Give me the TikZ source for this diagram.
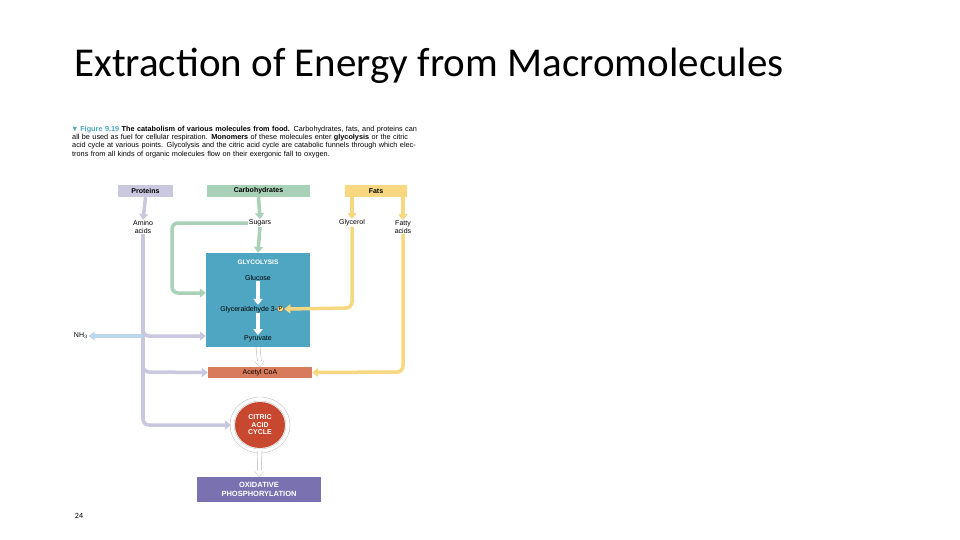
\documentclass[tikz,border=0pt]{standalone}
\usepackage{amssymb}
\usepackage{fontspec}
\setmainfont{Carlito}
\setsansfont{Liberation Sans}
\usetikzlibrary{arrows.meta,shapes.geometric}
\definecolor{prot}{HTML}{C9C8DE}
\definecolor{carb}{HTML}{A9D1B8}
\definecolor{fat}{HTML}{F7D77F}
\definecolor{glyc}{HTML}{4FA6C2}
\definecolor{acet}{HTML}{D87A5C}
\definecolor{cac}{HTML}{C8472F}
\definecolor{oxp}{HTML}{7A72B0}
\definecolor{nh}{HTML}{BBD8EA}
\tikzset{
 lab/.style={font=\sffamily\fontsize{7}{7.5}\selectfont,align=center,inner sep=0.5pt},
 hdr/.style={font=\sffamily\bfseries\fontsize{7}{8}\selectfont,minimum height=12pt,inner sep=0pt},
 pa/.style={draw=#1,line width=3.5pt,-{Triangle[length=6pt,width=9pt]},rounded corners=6pt},
 pl/.style={draw=#1,line width=3.5pt,rounded corners=6pt},
 wa/.style={draw=white,line width=3.5pt,-{Triangle[length=6pt,width=9pt]}},
}
\begin{document}
\begin{tikzpicture}[x=1pt,y=-1pt]
\useasboundingbox (0,0) rectangle (960,540);
\node[anchor=base west,font=\fontsize{41}{44}\selectfont,inner sep=0] (title) at (74,77) {Extraction of Energy from Macromolecules};
\node[anchor=north west,inner sep=0,text width=348pt,align=left,font=\sffamily\fontsize{7.3}{8.2}\selectfont] (cap) at (72,126)
{{\color{glyc}\bfseries $\blacktriangledown$ Figure 9.19} \textbf{The catabolism of various molecules from food.} Carbohydrates, fats, and proteins can all be used as fuel for cellular respiration. \textbf{Monomers} of these molecules enter \textbf{glycolysis} or the citric acid cycle at various points. Glycolysis and the citric acid cycle are catabolic funnels through which electrons from all kinds of organic molecules flow on their exergonic fall to oxygen.};
% headers
\node[hdr,fill=prot,minimum width=55pt] (prot) at (145.5,191) {Proteins};
\node[hdr,fill=carb,minimum width=103pt] (carb) at (258.5,191) {Carbohydrates};
\node[hdr,fill=fat,minimum width=62pt] (fats) at (376,191) {Fats};
\node[lab] (amino) at (143,227) {Amino\\acids};
\node[lab] (sug) at (260,223) {Sugars};
\node[lab] (glyr) at (352,223) {Glycerol};
\node[lab] (fatty) at (403,227) {Fatty\\acids};
% glycolysis
\node[fill=glyc,minimum width=104pt,minimum height=94pt,inner sep=0] (gbox) at (258,300) {};
\node[lab,text=white,font=\sffamily\bfseries\fontsize{6.5}{7}\selectfont] (gl) at (258,262) {GLYCOLYSIS};
\node[lab] (glu) at (258,278) {Glucose};
\node[lab] (g3p) at (252,309) {Glyceraldehyde 3-\tikz[baseline=-2.2pt]\node[circle,fill=fat,draw=black!60,inner sep=0.3pt,font=\sffamily\fontsize{5.5}{6}\selectfont]{P};};
\node[lab] (pyr) at (258,339) {Pyruvate};
\node[fill=acet,minimum width=104pt,minimum height=11pt,inner sep=0,lab] (acoa) at (260,372.5) {Acetyl CoA};
\draw[gray!50,line width=4.5pt] (260,425) ellipse (28pt and 26pt);
\draw[white,line width=3.5pt] (260,425) ellipse (28pt and 26pt);
\node[ellipse,fill=cac,minimum width=50pt,minimum height=46pt,inner sep=0,text=white,font=\sffamily\bfseries\fontsize{7}{7.5}\selectfont,align=center] (cac) at (260,425) {CITRIC\\ACID\\CYCLE};
\node[fill=oxp,minimum width=124pt,minimum height=25pt,inner sep=0,text=white,font=\sffamily\bfseries\fontsize{7.5}{8.5}\selectfont,align=center] (oxp) at (259,489.5) {OXIDATIVE\\PHOSPHORYLATION};
\node[lab,font=\sffamily\fontsize{7}{7.5}\selectfont] (nh3) at (81,336) {NH$_3$};
\node[font=\fontsize{8}{9}\selectfont,inner sep=0] (pg) at (79,516) {24};
% connectors
\draw[pa=prot] (prot.south) -- (amino.north);
\draw[pa=carb] (carb.south) -- (sug.north);
\draw[pa=fat] (fats.south -| glyr) -- (glyr.north);
\draw[pa=fat] (fats.south -| fatty) -- (fatty.north);
\draw[pa=carb] (sug.south) -- (gbox.north);
\draw[pa=carb] (sug.west) -- (172,223) -- (172,293) -- (gbox.west |- 0,293);
\draw[pa=fat] (glyr.south) -- (352,308) -- (g3p.east);
\draw[pa=fat] (fatty.south) -- (403,372) -- (acoa.east);
\draw[pl=prot] (amino.south) -- (143,420);
\draw[pa=prot] (143,320) -- (143,336) -- (gbox.west |- 0,336);
\draw[pa=prot] (143,356) -- (143,372) -- (acoa.west);
\draw[pa=prot] (143,400) -- (143,425) -- (231,425);
\draw[pa=nh] (143,336) -- (nh3.east);
\draw[wa] (glu.south) -- (g3p.north -| glu);
\draw[wa] (g3p.south -| pyr) -- (pyr.north);
\draw[draw=gray!60,line width=4.5pt,-{Triangle[length=6pt,width=9pt]},shorten >=-0.5pt] (gbox.south) -- (acoa.north);
\draw[wa] (gbox.south) -- (acoa.north);
\draw[draw=gray!60,line width=4.5pt] (acoa.south) -- (260,399);
\draw[draw=white,line width=3.5pt] (acoa.south) -- (260,399.5);
\draw[draw=gray!60,line width=4.5pt,-{Triangle[length=6pt,width=9pt]},shorten >=-0.5pt] (260,451) -- (oxp.north);
\draw[wa] (260,450.5) -- (oxp.north);
\end{tikzpicture}
\end{document}
